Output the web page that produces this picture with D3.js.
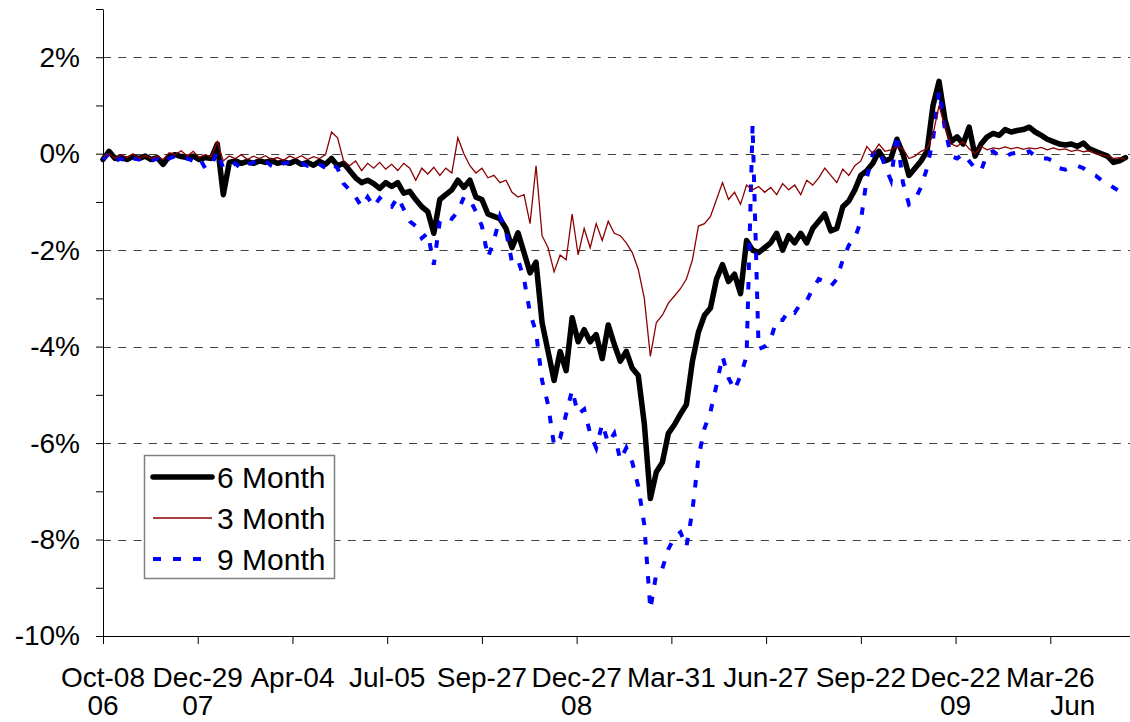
<!DOCTYPE html>
<html>
<head>
<meta charset="UTF-8">
<title>Spread chart</title>
<script src="https://d3js.org/d3.v7.min.js"></script>
<style>
  body { margin: 0; background: #fff; }
  svg { display: block; font-family: "Liberation Sans", Arial, sans-serif; }
</style>
</head>
<body>
<div id="chart"></div>
<script>
// one sample every 4 trading days, starting at the first tick
var step = 4;

var sixMonth = [
  -0.12, 0.05, -0.10, -0.08, -0.12, -0.06, -0.10, -0.05, -0.12, -0.08,
  -0.22, -0.05, -0.02, -0.06, -0.08, -0.05, -0.12, -0.08, -0.10, 0.20,
  -0.85, -0.18, -0.15, -0.20, -0.16, -0.20, -0.15, -0.18, -0.14, -0.20,
  -0.17, -0.20, -0.15, -0.22, -0.18, -0.24, -0.16, -0.22, -0.10, -0.25,
  -0.20, -0.35, -0.50, -0.60, -0.55, -0.62, -0.72, -0.60, -0.68, -0.60,
  -0.82, -0.78, -0.95, -1.10, -1.20, -1.65, -0.95, -0.85, -0.75, -0.55,
  -0.70, -0.55, -0.90, -0.95, -1.25, -1.30, -1.35, -1.55, -1.95, -1.64,
  -2.05, -2.47, -2.25, -3.50, -4.10, -4.70, -4.10, -4.50, -3.40, -3.90,
  -3.65, -3.90, -3.75, -4.25, -3.55, -3.95, -4.30, -4.10, -4.45, -4.60,
  -5.60, -7.15, -6.60, -6.40, -5.80, -5.62, -5.40, -5.20, -4.30, -3.70,
  -3.35, -3.20, -2.60, -2.30, -2.65, -2.50, -2.90, -1.80, -2.00, -2.05,
  -1.95, -1.85, -1.65, -2.00, -1.70, -1.85, -1.65, -1.85, -1.55, -1.40,
  -1.25, -1.60, -1.55, -1.10, -0.98, -0.75, -0.45, -0.35, -0.20, 0.05,
  -0.15, -0.10, 0.30, 0.00, -0.45, -0.30, -0.15, 0.05, 1.00, 1.50,
  0.70, 0.25, 0.35, 0.20, 0.55, -0.05, 0.20, 0.35, 0.42, 0.38,
  0.50, 0.45, 0.48, 0.50, 0.55, 0.45, 0.38, 0.30, 0.25, 0.20,
  0.18, 0.20, 0.15, 0.22, 0.10, 0.05, 0.00, -0.05, -0.18, -0.15,
  -0.08
];

var threeMonth = [
  -0.08, 0.00, -0.10, -0.02, -0.08, 0.00, -0.10, -0.04, -0.10, -0.05,
  -0.12, 0.02, -0.02, 0.06, -0.05, 0.05, -0.08, -0.02, -0.06, 0.25,
  -0.15, -0.05, -0.10, -0.02, -0.12, -0.05, -0.10, -0.04, -0.12, -0.08,
  -0.14, -0.05, -0.10, -0.04, -0.12, -0.06, -0.10, -0.02, 0.45, 0.33,
  -0.15, -0.25, -0.15, -0.35, -0.20, -0.30, -0.18, -0.32, -0.22, -0.35,
  -0.20, -0.30, -0.55, -0.30, -0.42, -0.28, -0.45, -0.30, -0.40, 0.33,
  0.00, -0.25, -0.40, -0.30, -0.50, -0.45, -0.60, -0.55, -0.80, -0.90,
  -0.85, -1.45, -0.25, -1.70, -1.95, -2.45, -2.10, -2.20, -1.25, -2.10,
  -1.55, -1.95, -1.45, -1.80, -1.40, -1.65, -1.70, -1.85, -2.05, -2.40,
  -3.00, -4.20, -3.50, -3.35, -3.10, -2.95, -2.80, -2.60, -2.20, -1.50,
  -1.45, -1.30, -0.95, -0.60, -0.95, -0.80, -1.05, -0.65, -0.75, -0.68,
  -0.80, -0.70, -0.85, -0.62, -0.75, -0.65, -0.85, -0.55, -0.65, -0.50,
  -0.30, -0.45, -0.60, -0.32, -0.45, -0.25, -0.15, 0.15, 0.00, 0.20,
  0.05, 0.08, 0.15, 0.10, -0.10, -0.05, 0.05, 0.10, 0.40, 1.00,
  0.55, 0.20, 0.15, 0.25, 0.10, 0.00, 0.15, 0.08, 0.12, 0.10,
  0.14, 0.10, 0.13, 0.09, 0.12, 0.10, 0.13, 0.08, 0.12, 0.08,
  0.10, 0.05, 0.08, 0.04, 0.06, 0.00, -0.02, -0.05, -0.10, -0.08,
  -0.12
];

var nineMonth = [
  -0.12, 0.00, -0.15, -0.10, -0.18, -0.10, -0.12, -0.08, -0.15, -0.10,
  -0.20, -0.10, -0.05, -0.12, -0.10, -0.15, -0.08, -0.30, -0.25, 0.05,
  -0.30, -0.28, -0.20, -0.32, -0.22, -0.18, -0.22, -0.15, -0.25, -0.30,
  -0.20, -0.18, -0.22, -0.20, -0.25, -0.18, -0.22, -0.30, -0.20, -0.30,
  -0.62, -0.75, -0.90, -1.10, -0.90, -1.10, -0.92, -1.05, -1.10, -0.90,
  -1.15, -1.40, -1.50, -1.75, -1.65, -2.30, -1.40, -1.30, -1.35, -1.20,
  -0.90, -0.95, -1.20, -1.50, -2.15, -1.80, -1.30, -1.60, -2.25, -2.20,
  -2.60, -3.30, -3.70, -4.70, -5.20, -6.05, -5.90, -5.40, -4.90, -5.40,
  -5.30, -5.80, -6.10, -5.60, -6.00, -5.80, -6.35, -6.10, -6.40, -6.90,
  -7.70, -9.45, -8.70, -8.60, -8.20, -7.95, -7.85, -8.15, -7.40, -6.30,
  -5.70, -5.35, -4.80, -4.20, -4.65, -4.90, -4.60, -4.20, 0.60, -4.05,
  -4.00, -3.85, -3.45, -3.45, -3.25, -3.30, -3.10, -3.05, -2.80, -2.60,
  -2.65, -2.75, -2.60, -2.20, -1.90, -1.75, -1.40, -0.50, 0.00, 0.10,
  -0.25, -0.55, 0.40, -0.60, -1.05, -0.95, -0.70, -0.30, 0.30, 1.30,
  0.50, -0.05, -0.10, 0.00, -0.15, -0.30, -0.35, 0.00, 0.05, -0.05,
  -0.06, 0.00, 0.02, 0.00, 0.05, -0.05, -0.10, -0.10, -0.15, -0.30,
  -0.33, -0.28, -0.25, -0.30, -0.40, -0.45, -0.55, -0.62, -0.70, -0.78,
  -0.90
];

var yTicks = [-10, -9, -8, -7, -6, -5, -4, -3, -2, -1, 0, 1, 2, 3];
var gridValues = [-8, -6, -4, -2, 0, 2];
var tickDays = [0, 63, 126, 189, 252, 315, 378, 441, 504, 567, 630];
var tickLabels = ["Oct-08", "Dec-29", "Apr-04", "Jul-05", "Sep-27", "Dec-27",
                  "Mar-31", "Jun-27", "Sep-22", "Dec-22", "Mar-26"];
var yearDays = [0, 63, 315, 567, 645];
var yearLabels = ["06", "07", "08", "09", "Jun"];

var seriesNames = ["6 Month", "3 Month", "9 Month"];

var width = 1130, height = 722;

var svg = d3.select("#chart").append("svg")
    .attr("width", width)
    .attr("height", height);

var x = d3.scaleLinear().domain([0, 683]).range([103, 1130]);
var y = d3.scaleLinear().domain([-10, 3]).range([636, 9]);

// dashed grid lines
svg.append("g")
    .selectAll("line")
    .data(gridValues)
    .enter().append("line")
    .attr("x1", x(0))
    .attr("x2", x(683))
    .attr("y1", function (d) { return Math.round(y(d)) + 0.5; })
    .attr("y2", function (d) { return Math.round(y(d)) + 0.5; })
    .style("stroke", "#404040")
    .style("stroke-width", 1)
    .style("stroke-dasharray", "8,7.3");

// y axis
var yAxis = d3.axisLeft(y)
    .tickValues(yTicks)
    .tickSize(7)
    .tickSizeOuter(0)
    .tickPadding(16)
    .tickFormat(function (d) { return d % 2 === 0 ? d + "%" : ""; });

var gy = svg.append("g")
    .attr("transform", "translate(" + x(0) + ",0)")
    .call(yAxis);
gy.selectAll("text").style("font-size", "28px").style("fill", "#000");
gy.selectAll("line, path").style("stroke", "#000");

// x axis
var xAxis = d3.axisBottom(x)
    .tickValues(tickDays)
    .tickSize(8)
    .tickSizeOuter(0)
    .tickFormat("");

var gx = svg.append("g")
    .attr("transform", "translate(0," + y(-10) + ")")
    .call(xAxis);
gx.selectAll("line, path").style("stroke", "#000");

svg.append("g").selectAll("text")
    .data(tickDays)
    .enter().append("text")
    .attr("x", function (d) { return x(d); })
    .attr("y", 687)
    .attr("text-anchor", "middle")
    .style("font-size", "28px")
    .text(function (d, i) { return tickLabels[i]; });

svg.append("g").selectAll("text")
    .data(yearDays)
    .enter().append("text")
    .attr("x", function (d) { return x(d); })
    .attr("y", 715)
    .attr("text-anchor", "middle")
    .style("font-size", "28px")
    .text(function (d, i) { return yearLabels[i]; });

// lines
function toPoints(values) {
    return values.map(function (v, i) { return { day: i * step, value: v }; });
}

var line = d3.line()
    .x(function (d) { return x(d.day); })
    .y(function (d) { return y(d.value); });

svg.append("path")
    .datum(toPoints(sixMonth))
    .attr("d", line)
    .style("fill", "none")
    .style("stroke", "#000")
    .style("stroke-width", 5.5)
    .style("stroke-linejoin", "round")
    .style("stroke-linecap", "round");

svg.append("path")
    .datum(toPoints(nineMonth))
    .attr("d", line)
    .style("fill", "none")
    .style("stroke", "#0000ff")
    .style("stroke-width", 4)
    .style("stroke-dasharray", "7.5,12");

svg.append("path")
    .datum(toPoints(threeMonth))
    .attr("d", line)
    .style("fill", "none")
    .style("stroke", "#8b0000")
    .style("stroke-width", 1.3);

// legend
var legend = svg.append("g");
legend.append("rect")
    .attr("x", 144.5)
    .attr("y", 455.5)
    .attr("width", 190)
    .attr("height", 123)
    .style("fill", "#fff")
    .style("stroke", "#808080")
    .style("stroke-width", 1.5);

var legendStyles = [
    { stroke: "#000", width: 5.5, dash: null, cap: "round" },
    { stroke: "#8b0000", width: 1.3, dash: null, cap: "butt" },
    { stroke: "#0000ff", width: 4, dash: "8,12", cap: "butt" }
];
var legendRows = [477, 518, 559];

seriesNames.forEach(function (name, i) {
    var s = legendStyles[i];
    legend.append("line")
        .attr("x1", 153).attr("x2", 212)
        .attr("y1", legendRows[i]).attr("y2", legendRows[i])
        .style("stroke", s.stroke)
        .style("stroke-width", s.width)
        .style("stroke-linecap", s.cap)
        .style("stroke-dasharray", s.dash);
    legend.append("text")
        .attr("x", 217)
        .attr("y", legendRows[i])
        .attr("dy", "0.35em")
        .style("font-size", "30px")
        .text(name);
});
</script>
</body>
</html>
